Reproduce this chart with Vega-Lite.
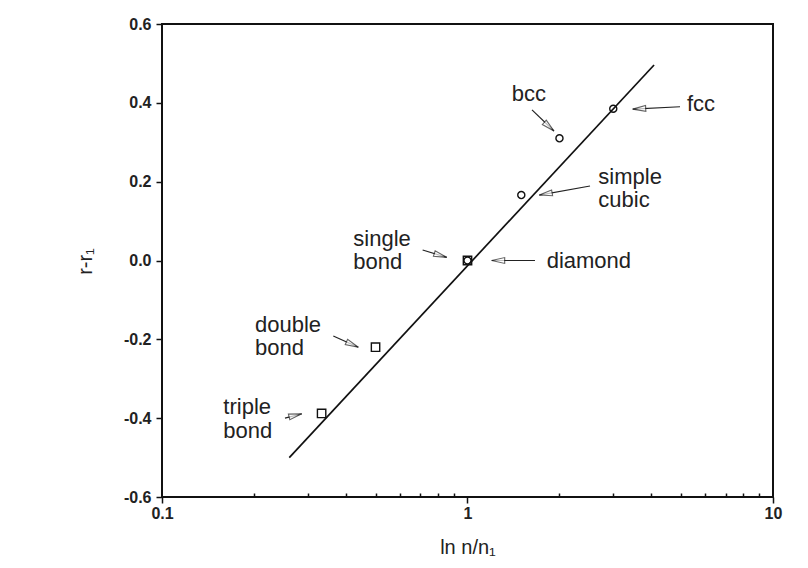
{
  "$schema": "https://vega.github.io/schema/vega-lite/v6.json",
  "width": 611,
  "height": 473,
  "autosize": {"type": "none"},
  "padding": {"left": 162, "top": 24, "right": 35, "bottom": 71},
  "background": "#ffffff",
  "config": {
    "view": {"stroke": "#111111", "strokeWidth": 2},
    "font": "Liberation Sans",
    "axis": {"grid": false, "domain": false, "tickColor": "#111111", "tickWidth": 1.5, "labelColor": "#222222", "labelFont": "Liberation Sans", "labelFontWeight": "bold", "labelFontSize": 16, "titleFont": "Liberation Sans", "titleFontWeight": "normal", "titleColor": "#222222", "titleFontSize": 20}
  },
  "datasets": {
    "points": [
      {"name": "triple bond", "kind": "bond", "x": 0.333, "y": -0.388},
      {"name": "double bond", "kind": "bond", "x": 0.5, "y": -0.22},
      {"name": "single bond", "kind": "bond", "x": 1, "y": 0},
      {"name": "diamond", "kind": "crystal", "x": 1, "y": 0},
      {"name": "simple cubic", "kind": "crystal", "x": 1.5, "y": 0.166},
      {"name": "bcc", "kind": "crystal", "x": 2, "y": 0.31},
      {"name": "fcc", "kind": "crystal", "x": 3, "y": 0.385}
    ],
    "fit": [
      {"x": 0.261, "y": -0.5},
      {"x": 4.08, "y": 0.496}
    ],
    "labels": [
      {"text": "bcc", "x": 1.395, "y": 0.4224},
      {"text": "fcc", "x": 5.23, "y": 0.397},
      {"text": "simple", "x": 2.68, "y": 0.2131},
      {"text": "cubic", "x": 2.68, "y": 0.1547},
      {"text": "single", "x": 0.4229, "y": 0.0545},
      {"text": "bond", "x": 0.4229, "y": -0.0038},
      {"text": "diamond", "x": 1.816, "y": 0.0},
      {"text": "double", "x": 0.2015, "y": -0.1649},
      {"text": "bond", "x": 0.2015, "y": -0.2232},
      {"text": "triple", "x": 0.1588, "y": -0.3729},
      {"text": "bond", "x": 0.1588, "y": -0.4313}
    ],
    "arrows": [
      {"name": "bcc", "x": 1.626, "y": 0.382, "x2": 1.919, "y2": 0.3285},
      {"name": "fcc", "x": 4.962, "y": 0.39, "x2": 3.474, "y2": 0.384},
      {"name": "simple cubic", "x": 2.518, "y": 0.189, "x2": 1.718, "y2": 0.166},
      {"name": "single bond", "x": 0.713, "y": 0.0266, "x2": 0.855, "y2": 0.008},
      {"name": "diamond", "x": 1.663, "y": 0.0, "x2": 1.2, "y2": 0.0},
      {"name": "double bond", "x": 0.3637, "y": -0.1915, "x2": 0.4391, "y2": -0.22},
      {"name": "triple bond", "x": 0.2527, "y": -0.4, "x2": 0.2866, "y2": -0.389}
    ]
  },
  "encoding": {
    "x": {"field": "x", "type": "quantitative", "scale": {"type": "log", "domain": [0.1, 10], "nice": false},
      "axis": {
        "title": "ln n/n₁",
        "values": [0.1, 0.2, 0.3, 0.4, 0.5, 0.6, 0.7, 0.8, 0.9, 1, 2, 3, 4, 5, 6, 7, 8, 9, 10],
        "labelExpr": "datum.value == 0.1 ? '0.1' : datum.value == 1 ? '1' : datum.value == 10 ? '10' : ''",
        "labelFlush": false,
        "labelOverlap": false,
        "labelPadding": 2,
        "tickSize": {"condition": {"test": "datum.value == 0.1 || datum.value == 1 || datum.value == 10", "value": 6}, "value": -4},
        "titleX": 305.5,
        "titleY": 56,
        "titleAlign": "center",
        "titleBaseline": "alphabetic"
      }
    },
    "y": {"field": "y", "type": "quantitative", "scale": {"domain": [-0.6, 0.6], "nice": false, "zero": false},
      "axis": {
        "title": "r-r₁",
        "values": [-0.6, -0.4, -0.2, 0, 0.2, 0.4, 0.6],
        "labelExpr": "datum.value < 0 ? '-' + format(-datum.value, '.1f') : format(datum.value, '.1f')",
        "tickSize": 6,
        "labelPadding": 5,
        "titleX": -77,
        "titleY": 237,
        "titleAngle": -90,
        "titleAlign": "center",
        "titleBaseline": "middle"
      }
    }
  },
  "layer": [
    {
      "data": {"name": "fit"},
      "mark": {"type": "line", "color": "#111111", "strokeWidth": 1.7},
      "encoding": {}
    },
    {
      "data": {"name": "arrows"},
      "mark": {"type": "rule", "color": "#222222", "strokeWidth": 1.2},
      "encoding": {"x2": {"field": "x2"}, "y2": {"field": "y2"}}
    },
    {
      "data": {"name": "arrows"},
      "transform": [{"filter": "datum.name == 'bcc'"}],
      "mark": {"type": "point", "shape": "M0,0L-2,-0.45L-2,0.45Z", "size": 169, "filled": true, "fill": "#ffffff", "stroke": "#222222", "strokeWidth": 1.1, "angle": 42},
      "encoding": {"x": {"field": "x2", "type": "quantitative"}, "y": {"field": "y2", "type": "quantitative"}}
    },
    {
      "data": {"name": "arrows"},
      "transform": [{"filter": "datum.name == 'fcc'"}],
      "mark": {"type": "point", "shape": "M0,0L-2,-0.45L-2,0.45Z", "size": 169, "filled": true, "fill": "#ffffff", "stroke": "#222222", "strokeWidth": 1.1, "angle": 177},
      "encoding": {"x": {"field": "x2", "type": "quantitative"}, "y": {"field": "y2", "type": "quantitative"}}
    },
    {
      "data": {"name": "arrows"},
      "transform": [{"filter": "datum.name == 'simple cubic'"}],
      "mark": {"type": "point", "shape": "M0,0L-2,-0.45L-2,0.45Z", "size": 169, "filled": true, "fill": "#ffffff", "stroke": "#222222", "strokeWidth": 1.1, "angle": 170},
      "encoding": {"x": {"field": "x2", "type": "quantitative"}, "y": {"field": "y2", "type": "quantitative"}}
    },
    {
      "data": {"name": "arrows"},
      "transform": [{"filter": "datum.name == 'single bond'"}],
      "mark": {"type": "point", "shape": "M0,0L-2,-0.45L-2,0.45Z", "size": 169, "filled": true, "fill": "#ffffff", "stroke": "#222222", "strokeWidth": 1.1, "angle": 17},
      "encoding": {"x": {"field": "x2", "type": "quantitative"}, "y": {"field": "y2", "type": "quantitative"}}
    },
    {
      "data": {"name": "arrows"},
      "transform": [{"filter": "datum.name == 'diamond'"}],
      "mark": {"type": "point", "shape": "M0,0L-2,-0.45L-2,0.45Z", "size": 169, "filled": true, "fill": "#ffffff", "stroke": "#222222", "strokeWidth": 1.1, "angle": 180},
      "encoding": {"x": {"field": "x2", "type": "quantitative"}, "y": {"field": "y2", "type": "quantitative"}}
    },
    {
      "data": {"name": "arrows"},
      "transform": [{"filter": "datum.name == 'double bond'"}],
      "mark": {"type": "point", "shape": "M0,0L-2,-0.45L-2,0.45Z", "size": 169, "filled": true, "fill": "#ffffff", "stroke": "#222222", "strokeWidth": 1.1, "angle": 24},
      "encoding": {"x": {"field": "x2", "type": "quantitative"}, "y": {"field": "y2", "type": "quantitative"}}
    },
    {
      "data": {"name": "arrows"},
      "transform": [{"filter": "datum.name == 'triple bond'"}],
      "mark": {"type": "point", "shape": "M0,0L-2,-0.45L-2,0.45Z", "size": 169, "filled": true, "fill": "#ffffff", "stroke": "#222222", "strokeWidth": 1.1, "angle": 346},
      "encoding": {"x": {"field": "x2", "type": "quantitative"}, "y": {"field": "y2", "type": "quantitative"}}
    },
    {
      "data": {"name": "points"},
      "mark": {"type": "point", "filled": false, "stroke": "#111111", "strokeWidth": 1.4, "opacity": 1},
      "encoding": {
        "shape": {"field": "kind", "type": "nominal", "scale": {"domain": ["bond", "crystal"], "range": ["square", "circle"]}, "legend": null},
        "size": {"field": "kind", "type": "nominal", "scale": {"domain": ["bond", "crystal"], "range": [70, 50]}, "legend": null}
      }
    },
    {
      "data": {"name": "labels"},
      "mark": {"type": "text", "align": "left", "baseline": "middle", "fontSize": 22, "font": "Liberation Sans", "color": "#222222"},
      "encoding": {"text": {"field": "text", "type": "nominal"}}
    }
  ]
}
